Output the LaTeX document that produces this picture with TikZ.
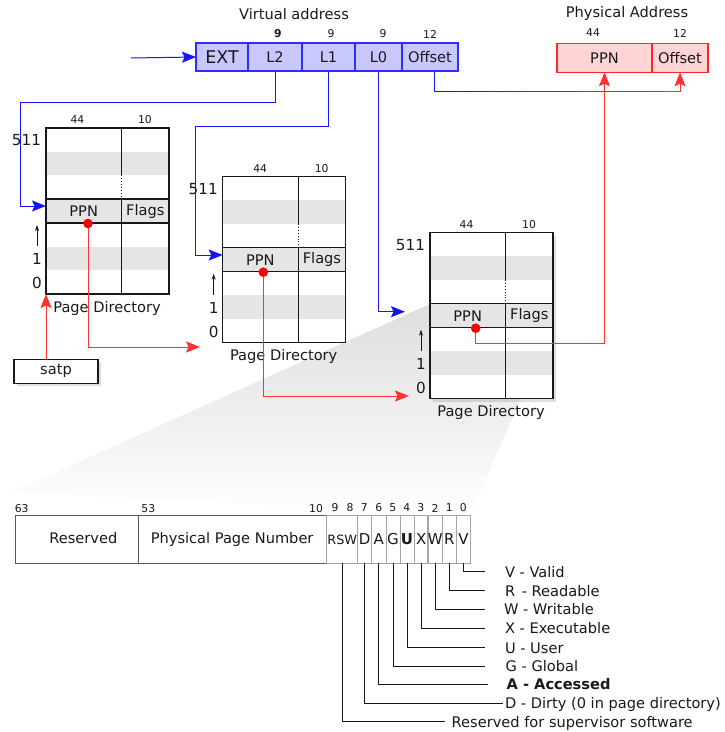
\documentclass[tikz,border=0pt]{standalone}
\usepackage{fontspec}
\setmainfont{DejaVu Sans}
\usetikzlibrary{arrows.meta,shadows}
\newcommand\myfs[1]{\fontsize{#1bp}{#1bp}\selectfont}
\definecolor{vfill}{RGB}{200,200,255}
\definecolor{vline}{RGB}{45,45,255}
\definecolor{pfill}{RGB}{255,212,212}
\definecolor{pline}{RGB}{255,40,40}
\definecolor{rowgray}{RGB}{229,229,229}
\definecolor{bline}{RGB}{20,20,255}
\definecolor{rline}{RGB}{255,50,50}
\definecolor{ink}{RGB}{25,25,25}
\tikzset{
  lbl/.style={inner sep=0pt, outer sep=0pt, font=\myfs{14.6}, text=ink},
  num/.style={inner sep=0pt, outer sep=0pt, font=\myfs{10.8}, text=ink},
  big/.style={font=\myfs{15.2}},
  vabox/.style={draw=vline, fill=vfill, line width=1.2bp, minimum height=28bp, inner sep=0pt, outer sep=0pt, font=\myfs{14.6}, text=ink},
  pabox/.style={draw=pline, fill=pfill, line width=1.2bp, minimum height=29bp, inner sep=0pt, outer sep=0pt, font=\myfs{14.6}, text=ink},
  tip/.style={-{Stealth[length=14bp,width=11bp,inset=2.5bp]}},
  bluearr/.style={tip, draw=bline, line width=1bp},
  redarr/.style={tip, draw=rline, line width=1bp},
  upar/.style={-{Stealth[length=6bp,width=4bp]}, line width=0.8bp, draw=ink},
  pdframe/.style={draw=ink, line width=1.3bp, fill=white, minimum width=123bp, minimum height=166bp, inner sep=0pt, outer sep=0pt, anchor=north west},
  pteA/.style={draw=black!65, line width=1bp, minimum height=47.3bp, inner sep=0pt, outer sep=0pt},
  bitcell/.style={draw=black!35, line width=0.8bp, minimum height=47.3bp, minimum width=14.1bp, inner sep=0pt, outer sep=0pt, font=\myfs{15}, text=ink},
  leader/.style={draw=ink, line width=0.9bp},
  shadowed/.style={drop shadow={opacity=0.25, shadow xshift=3bp, shadow yshift=-3bp}}
}
\newcommand\pagedir[6]{%
  \node[pdframe, #5] (#1) at (#2,#3) {};
  \begin{scope}[shift={(#2,#3)}]
    \fill[rowgray] (0,23.71) rectangle (123,47.43);
    \fill[rowgray] (0,71.14) rectangle (123,94.86);
    \fill[rowgray] (0,118.57) rectangle (123,142.29);
    \draw[line width=1.3bp, ink] (0,71.14) -- (123,71.14) (0,94.86) -- (123,94.86);
    \draw[line width=1.1bp, ink] (75.5,0) -- (75.5,47.43) (75.5,71.14) -- (75.5,166);
    \draw[line width=0.9bp, ink, dotted] (75.5,47.43) -- (75.5,71.14);
    \draw[line width=1.3bp, ink] (0,0) rectangle (123,166);
    \node[lbl] (#1ppn) at (37.7,83) {PPN};
    \node[lbl] (#1flags) at (99.25,83) {Flags};
    \node[num] (#1w) at (#6,-8) {44};
    \node[num] (#1f) at (99,-8) {10};
    \node[lbl, big, anchor=east] (#1top) at (-5,12.5) {511};
    \node[lbl, big] (#1one) at (-9,131) {1};
    \node[lbl, big] (#1zero) at (-9,155) {0};
    \coordinate (#1ua) at (-9,118);
    \coordinate (#1ub) at (-9,97);
    \draw[upar] (#1ua) -- (#1ub);
    \node[lbl] (#1cap) at (61,180) {Page Directory};
    \coordinate (#1dot) at (#4,95.5);
  \end{scope}
}
\begin{document}
\begin{tikzpicture}[x=1bp,y=-1bp]
\fill[white] (0,0) rectangle (725,732);
\useasboundingbox (0,0) rectangle (725,732);

% magnification cone
\shade[top color=black!13, bottom color=white] (430,304) -- (552,327) -- (470,515) -- (12,492) -- cycle;

% virtual address
\node[lbl] (vatitle) at (294,14) {Virtual address};
\node[vabox, minimum width=52bp, font=\myfs{17.5}] (ext) at (222,57) {EXT};
\node[vabox, minimum width=54bp] (l2) at (275,57) {L2};
\node[vabox, minimum width=53bp] (l1) at (328.5,57) {L1};
\node[vabox, minimum width=47bp] (l0) at (378.5,57) {L0};
\node[vabox, minimum width=56bp] (voff) at (430,57) {Offset};
\node[num, font=\bfseries\myfs{10.8}] (n9a) at (278,34) {9};
\node[num] (n9b) at (331,34) {9};
\node[num] (n9c) at (383,34) {9};
\node[num] (n12a) at (430,34) {12};

% physical address
\node[lbl] (patitle) at (627,13) {Physical Address};
\node[pabox, minimum width=95bp] (pappn) at (604.5,57.7) {PPN};
\node[pabox, minimum width=56bp] (paoff) at (680,57.7) {Offset};
\node[num] (n44p) at (593,33) {44};
\node[num] (n12p) at (680,33) {12};

% page directories
\pagedir{pd1}{46}{128}{42}{}{31.5}
\pagedir{pd2}{222.7}{176.7}{40.6}{}{37.5}
\pagedir{pd3}{430}{232.7}{45.7}{shadowed}{36.5}

% satp
\node[draw=ink, line width=1.2bp, fill=white, minimum width=84bp, minimum height=24bp, inner sep=0pt, outer sep=0pt, font=\myfs{14.6}, text=ink, shadowed] (satp) at (56,371.3) {satp};

% blue connectors
\coordinate (vin) at (131,58);
\draw[bluearr] (vin) -- (ext.west);
\coordinate (b2a) at (20.7,103);
\coordinate (b2b) at (46,206);
\draw[bluearr] (l2.south) |- (b2a) |- (b2b);
\coordinate (b1a) at (195,126.7);
\coordinate (b1b) at (222.7,255);
\draw[bluearr] (l1.south) |- (b1a) |- (b1b);
\coordinate (b0) at (405,311.7);
\draw[bluearr] (l0.south) |- (b0);

% offset to physical offset (blue -> red)
\coordinate (oa) at (434,71);
\coordinate (ob) at (434,92);
\coordinate (oc) at (680,92);
\draw[draw=bline, line width=1bp] (oa) -- (ob);
\foreach \i in {0,...,19}{
  \pgfmathsetmacro\xa{434+12.3*\i}
  \pgfmathsetmacro\xb{\xa+12.8}
  \pgfmathtruncatemacro\cc{100-5*\i}
  \draw[draw=bline!\cc!rline, line width=1bp] (\xa,92) -- (\xb,92);
}
\draw[redarr] (oc) -- (paoff.south);

% red connectors
\draw[redarr] (pd1.south west |- satp.north) -- (pd1.south west);
\coordinate (e2) at (200,347);
\draw[redarr] (pd1dot) |- (e2);
\coordinate (e3) at (409,396);
\draw[redarr] (pd2dot) |- (e3);
\coordinate (k3) at (604.5,343);
\draw[redarr] (pd3dot) |- (k3) -- (pappn.south);
\fill[red] (pd1dot) circle (4.8);
\fill[red] (pd2dot) circle (4.8);
\fill[red] (pd3dot) circle (4.8);

% page table entry
\node[pteA, minimum width=122.3bp] (res) at (77.15,539.35) {};
\node[lbl] (restxt) at (83.3,538.3) {Reserved};
\node[pteA, minimum width=187.7bp, font=\myfs{14.6}, text=ink] (ppnf) at (232.15,539.35) {Physical Page Number};
\node[bitcell, minimum width=31bp, font=\myfs{12.8}] (bRSW) at (342.2,539.35) {RSW};
\node[bitcell] (bD) at (364.75,539.35) {D};
\node[bitcell] (bA) at (378.85,539.35) {A};
\node[bitcell] (bG) at (392.95,539.35) {G};
\node[bitcell, font=\bfseries\myfs{15}] (bU) at (407.05,539.35) {U};
\node[bitcell] (bX) at (421.15,539.35) {X};
\node[bitcell] (bW) at (435.25,539.35) {W};
\node[bitcell] (bR) at (449.35,539.35) {R};
\node[bitcell] (bV) at (463.45,539.35) {V};
\node[num] (b63) at (21.7,509) {63};
\node[num] (b53) at (148.3,509) {53};
\node[num] (b10) at (316,509) {10};
\foreach \b/\x in {9/335,8/350,7/364.3,6/378.7,5/392.7,4/406.7,3/420.7,2/435,1/449.3,0/463.3}
  \node[num] (bn\b) at (\x,508) {\b};

% leaders
\foreach \n/\y/\e in {V/571.7/485,R/590.7/485,W/609.3/485,X/628.3/485,U/647.7/485,G/666/485,A/684.3/488,D/703.3/503,RSW/721.7/445}{
  \coordinate (e\n) at (\e,\y);
  \draw[leader] (b\n.south) |- (e\n);
}
\node[lbl, anchor=base west] (tV) at (505,577) {V - Valid};
\node[lbl, anchor=base west] (tR) at (505,596) {R\hspace{2bp} - Readable};
\node[lbl, anchor=base west] (tW) at (504,614.6) {W - Writable};
\node[lbl, anchor=base west] (tX) at (505,633.6) {X - Executable};
\node[lbl, anchor=base west] (tU) at (505,653) {U - User};
\node[lbl, anchor=base west] (tG) at (505.7,671.3) {G - Global};
\node[lbl, anchor=base west, font=\bfseries\myfs{14.6}] (tA) at (506.7,689.6) {A - Accessed};
\node[lbl, anchor=base west] (tD) at (505,708.6) {D - Dirty (0 in page directory)};
\node[lbl, anchor=base west] (tRSW) at (451.7,727) {Reserved for supervisor software};
\end{tikzpicture}
\end{document}
